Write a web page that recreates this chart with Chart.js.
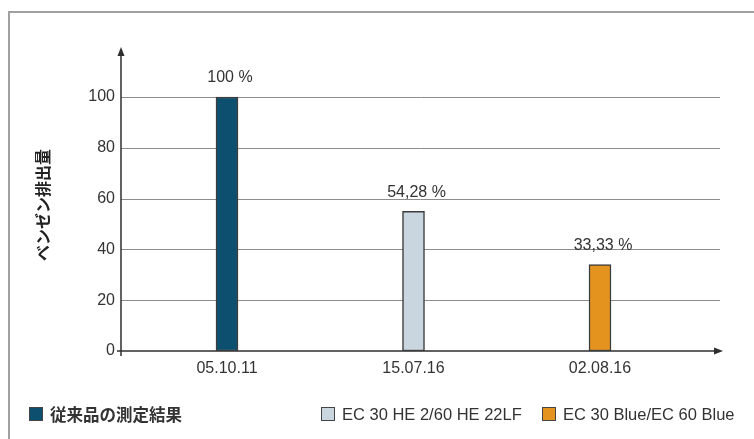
<!DOCTYPE html>
<html>
<head>
<meta charset="utf-8">
<script src="https://cdn.jsdelivr.net/npm/chart.js@4"></script>
<style>
  html, body { margin: 0; padding: 0; background: #fff; }
  #wrap { position: relative; width: 754px; height: 439px; overflow: hidden; }
  #frame { position: absolute; left: 8px; top: 11px; width: 760px; height: 440px;
           border-left: 2px solid #a0a0a0; border-top: 2px solid #a0a0a0; box-sizing: border-box; }
  canvas { position: absolute; left: 0; top: 0; }
  .leg { position: absolute; top: 403px; height: 22px; display: flex; align-items: center;
         font-family: "Liberation Sans", Arial, sans-serif; font-size: 16.5px; color: #333; white-space: nowrap; }
  .leg .sw { width: 12px; height: 12px; border: 1px solid #444; margin-right: 7px; flex: none; }
  .leg.bold { font-family: "Noto Sans CJK JP", sans-serif; font-weight: bold; font-size: 16.5px; }
</style>
</head>
<body>
<div id="wrap">
  <div id="frame"></div>
  <canvas id="c" width="754" height="439"></canvas>
  <div id="legend"></div>
</div>
<script>
// ---- data ----
const categories = ['05.10.11', '15.07.16', '02.08.16'];
const seriesNames = ['従来品の測定結果', 'EC 30 HE 2/60 HE 22LF', 'EC 30 Blue/EC 60 Blue'];
const barValues = [100, 55, 34];
const valueLabels = ['100 %', '54,28 %', '33,33 %'];
const yTicks = [0, 20, 40, 60, 80, 100];
const yAxisTitle = 'ベンゼン排出量';
const fillColors = ['#0c4f6f', '#c9d6df', '#e5931f'];
const legendLeft = [29, 321, 542];

const PX_LEFT = 133.75, PX_RIGHT = 693.25, PX_TOP = 58.9, PX_BOTTOM = 351;
const FONT = '"Liberation Sans", Arial, sans-serif';

// one dataset per series, each with a value only at its own category
const datasets = seriesNames.map((name, i) => ({
  label: name,
  data: categories.map((c, j) => (j === i ? barValues[i] : null)),
  backgroundColor: fillColors[i],
  borderColor: '#3c3c3c',
  borderWidth: 1.5,
  borderSkipped: false,
  barThickness: 22,
  grouped: false
}));

const axesPlugin = {
  id: 'axesPlugin',
  beforeDatasetsDraw(chart) {
    const ctx = chart.ctx;
    const y = chart.scales.y;
    const ax = 121;          // y-axis line x
    const gridRight = 720;
    const y0 = y.getPixelForValue(0);
    ctx.save();
    // gridlines
    ctx.strokeStyle = '#8c8c8c';
    ctx.lineWidth = 1;
    yTicks.forEach(v => {
      if (v === 0) return;
      const py = Math.round(y.getPixelForValue(v)) + 0.5;
      ctx.beginPath(); ctx.moveTo(ax, py); ctx.lineTo(gridRight, py); ctx.stroke();
    });
    // axes
    ctx.strokeStyle = '#2e2e2e';
    ctx.fillStyle = '#2e2e2e';
    ctx.lineWidth = 1.5;
    const yTop = y.getPixelForValue(100) - 50;
    ctx.beginPath(); ctx.moveTo(ax, y0 + 5); ctx.lineTo(ax, yTop + 8); ctx.stroke();
    ctx.beginPath(); ctx.moveTo(ax - 3.5, yTop + 9); ctx.lineTo(ax, yTop); ctx.lineTo(ax + 3.5, yTop + 9); ctx.closePath(); ctx.fill();
    const xTip = 723;
    ctx.beginPath(); ctx.moveTo(ax - 4, y0); ctx.lineTo(xTip - 8, y0); ctx.stroke();
    ctx.beginPath(); ctx.moveTo(xTip - 9, y0 - 3.5); ctx.lineTo(xTip, y0); ctx.lineTo(xTip - 9, y0 + 3.5); ctx.closePath(); ctx.fill();
    ctx.restore();
  },
  afterDatasetsDraw(chart) {
    const ctx = chart.ctx;
    ctx.save();
    ctx.font = '16px ' + FONT;
    ctx.fillStyle = '#333';
    ctx.textAlign = 'center';
    ctx.textBaseline = 'middle';
    chart.data.datasets.forEach((ds, i) => {
      const meta = chart.getDatasetMeta(i);
      const el = meta.data[i];
      if (!el) return;
      ctx.fillText(valueLabels[i], el.x + 3, el.y - 19);
    });
    ctx.restore();
  }
};

const chart = new Chart(document.getElementById('c'), {
  type: 'bar',
  data: { labels: categories, datasets },
  options: {
    responsive: false,
    animation: false,
    layout: { padding: { left: 0, right: 754 - PX_RIGHT, top: PX_TOP, bottom: 0 } },
    plugins: { legend: { display: false }, tooltip: { enabled: false } },
    scales: {
      x: {
        type: 'category',
        offset: true,
        grid: { display: false, drawTicks: false },
        border: { display: false },
        ticks: { color: '#333', font: { family: FONT, size: 16 }, padding: 8, maxRotation: 0 },
        afterFit(s) { s.height = 439 - PX_BOTTOM; }
      },
      y: {
        min: 0, max: 115,
        grid: { display: false, drawTicks: false },
        border: { display: false },
        ticks: { stepSize: 20, color: '#333', font: { family: FONT, size: 16 }, padding: PX_LEFT - 115 },
        afterBuildTicks(s) { s.ticks = yTicks.map(v => ({ value: v })); },
        title: {
          display: true, text: yAxisTitle, color: '#222',
          font: { family: '"Noto Sans CJK JP", sans-serif', size: 16, weight: 'bold', lineHeight: 1.2 },
          padding: { top: 33, bottom: 0 }
        },
        afterFit(s) { s.width = PX_LEFT; }
      }
    }
  },
  plugins: [axesPlugin]
});

// HTML legend built from the chart datasets
const legend = document.getElementById('legend');
chart.data.datasets.forEach((ds, i) => {
  const item = document.createElement('div');
  item.className = 'leg' + (i === 0 ? ' bold' : '');
  item.style.left = legendLeft[i] + 'px';
  const sw = document.createElement('span');
  sw.className = 'sw';
  sw.style.background = ds.backgroundColor;
  const tx = document.createElement('span');
  tx.textContent = ds.label;
  item.appendChild(sw); item.appendChild(tx);
  legend.appendChild(item);
});
</script>
</body>
</html>
